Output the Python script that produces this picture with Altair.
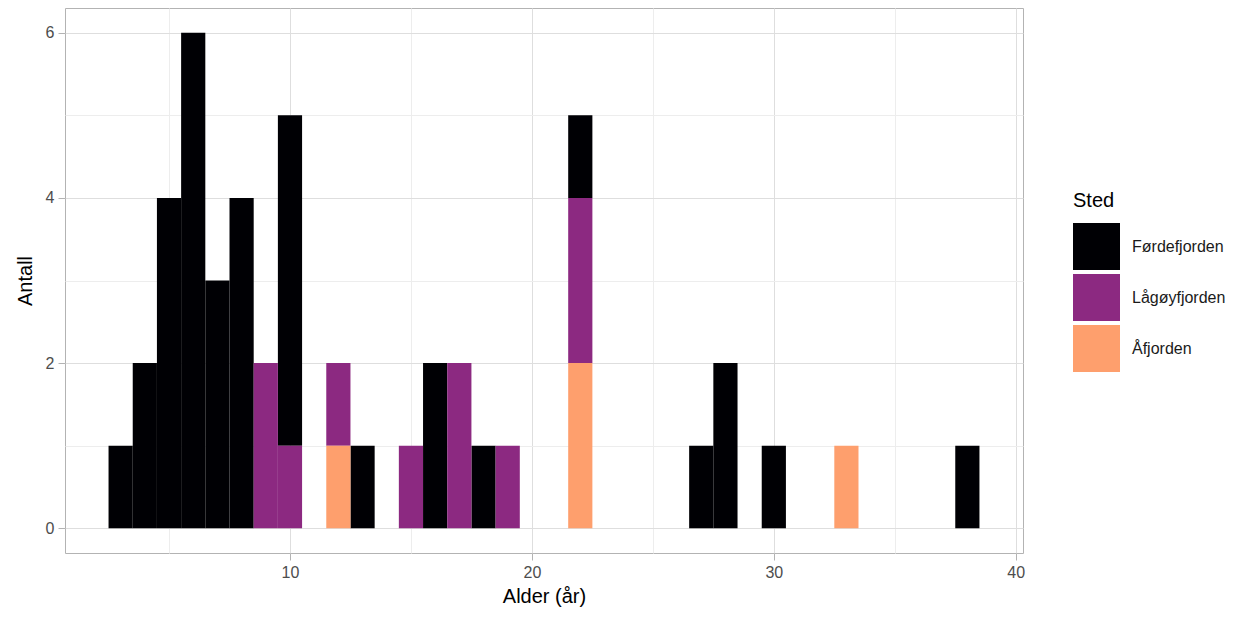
import altair as alt
import pandas as pd

# Observed ages (years) per location, one entry per fish
fordefjorden = [3, 4, 4, 5, 5, 5, 5, 6, 6, 6, 6, 6, 6, 7, 7, 7, 8, 8, 8, 8,
                10, 10, 10, 10, 13, 16, 16, 18, 22, 27, 28, 28, 30, 38]
lagoyfjorden = [9, 9, 10, 12, 15, 17, 17, 19, 22, 22]
afjorden = [12, 22, 22, 33]

steder = ["Førdefjorden", "Lågøyfjorden", "Åfjorden"]
farger = ["#000004", "#8C2981", "#FE9F6D"]

rows = ([{"alder": a, "sted": "Førdefjorden"} for a in fordefjorden]
        + [{"alder": a, "sted": "Lågøyfjorden"} for a in lagoyfjorden]
        + [{"alder": a, "sted": "Åfjorden"} for a in afjorden])
df = pd.DataFrame(rows)

label_font = "Liberation Sans"

chart = (
    alt.Chart(df)
    .transform_aggregate(n="count()", groupby=["alder", "sted"])
    .transform_calculate(
        x0="datum.alder - 0.5",
        x1="datum.alder + 0.5",
        rank="indexof(['Åfjorden','Lågøyfjorden','Førdefjorden'], datum.sted)",
    )
    .transform_stack(
        stack="n",
        groupby=["alder"],
        as_=["y0", "y1"],
        sort=[alt.SortField("rank", order="ascending")],
    )
    .mark_bar(strokeWidth=0)
    .encode(
        x=alt.X(
            "x0:Q",
            title="Alder (år)",
            scale=alt.Scale(domain=[0.7, 40.3], nice=False, zero=False, padding=0),
            axis=alt.Axis(
                values=[5, 10, 15, 20, 25, 30, 35, 40],
                labelExpr="datum.value % 10 === 0 ? datum.label : ''",
                gridColor={"condition": {"test": "datum.value % 10 === 0", "value": "#DEDEDE"}, "value": "#EDEDED"},
                tickOpacity={"condition": {"test": "datum.value % 10 === 0", "value": 1}, "value": 0},
            ),
        ),
        x2="x1:Q",
        y=alt.Y(
            "y0:Q",
            title="Antall",
            scale=alt.Scale(domain=[-0.3, 6.3], nice=False, zero=False, padding=0),
            axis=alt.Axis(
                values=[0, 1, 2, 3, 4, 5, 6],
                labelExpr="datum.value % 2 === 0 ? datum.label : ''",
                gridColor={"condition": {"test": "datum.value % 2 === 0", "value": "#DEDEDE"}, "value": "#EDEDED"},
                tickOpacity={"condition": {"test": "datum.value % 2 === 0", "value": 1}, "value": 0},
            ),
        ),
        y2="y1:Q",
        color=alt.Color(
            "sted:N",
            title="Sted",
            scale=alt.Scale(domain=steder, range=farger),
            legend=alt.Legend(
                orient="none",
                legendX=1008,
                legendY=183,
                symbolType="square",
                symbolSize=2209,
                symbolStrokeWidth=0,
                symbolOpacity=1,
                rowPadding=4,
                labelOffset=12,
                titlePadding=12,
                titleFontSize=20,
                titleFontWeight="normal",
                titleColor="#000000",
                titleFont=label_font,
                labelFontSize=16,
                labelColor="#1A1A1A",
                labelFont=label_font,
            ),
        ),
    )
    .properties(
        width=958,
        height=545,
        autosize=alt.AutoSizeParams(type="none"),
        padding={"left": 57, "top": 0, "right": 220, "bottom": 60},
    )
    .configure_view(stroke="#B3B3B3", strokeWidth=1)
    .configure_axis(
        domain=False,
        grid=True,
        gridWidth=1,
        tickColor="#B3B3B3",
        tickSize=7,
        tickWidth=1,
        labelFont=label_font,
        labelFontSize=16,
        labelColor="#4D4D4D",
        labelPadding=4,
        titleFont=label_font,
        titleFontSize=20,
        titleFontWeight="normal",
        titleColor="#000000",
    )
    .configure_axisX(titlePadding=6)
    .configure_axisY(titlePadding=10)
)

chart.save("out.html", embed_options={"renderer": "svg", "actions": False})
